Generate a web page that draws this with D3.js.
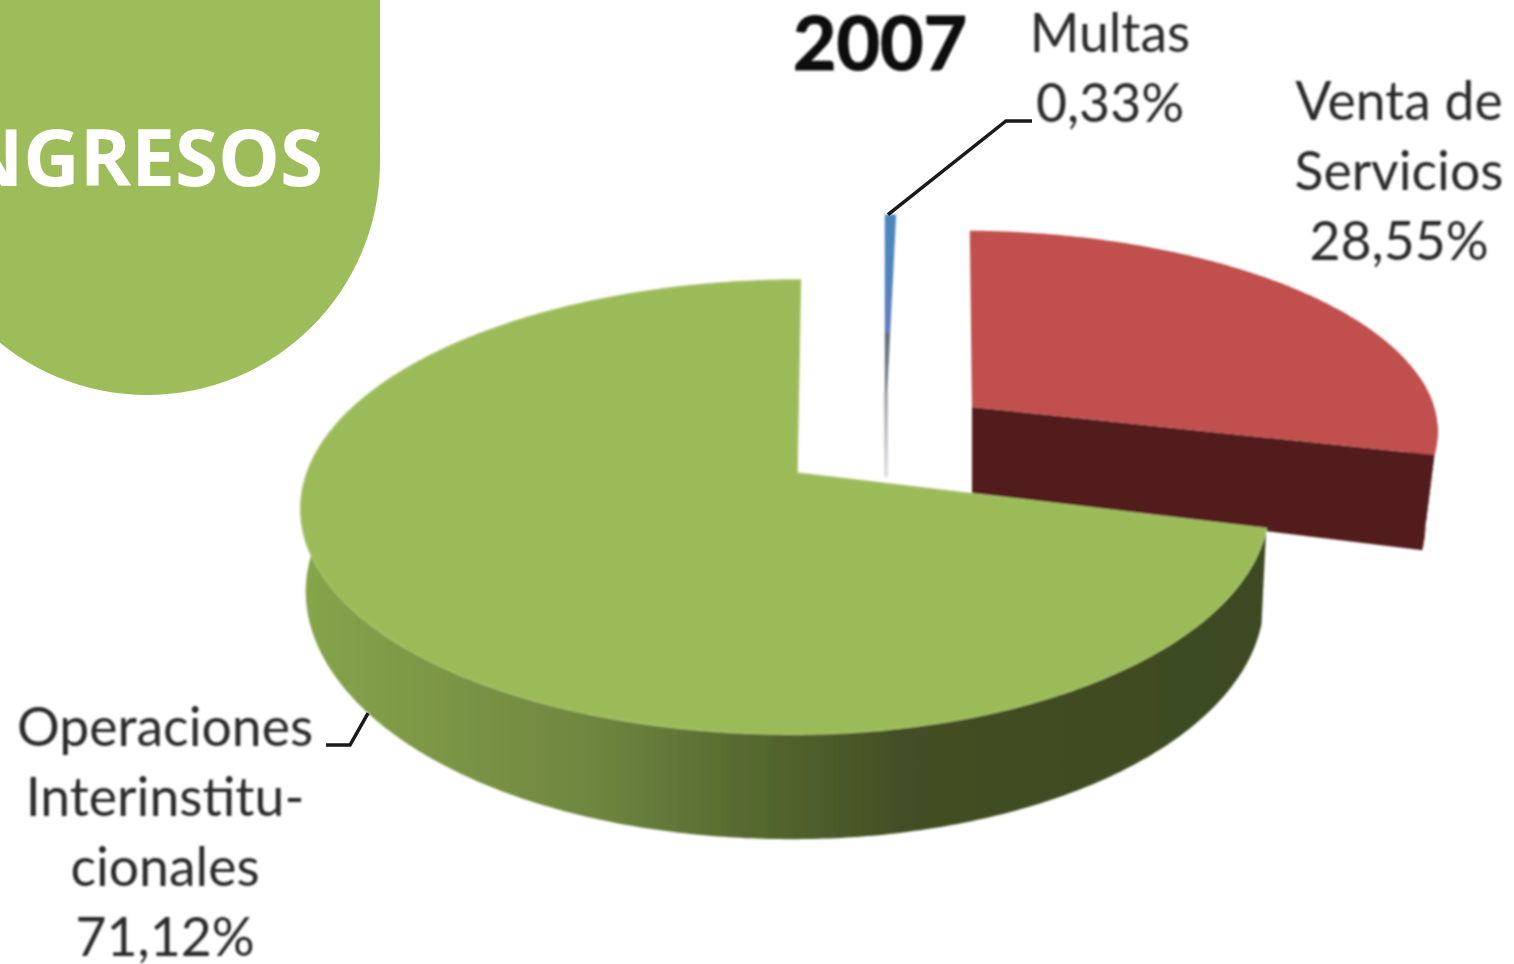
<!DOCTYPE html>
<html lang="es">
<head>
<meta charset="utf-8">
<title>Ingresos 2007</title>
<script src="https://cdn.jsdelivr.net/npm/d3@7"></script>
<style>
    html, body { margin: 0; padding: 0; background: #fff; overflow: hidden; }
    svg { display: block; }
    .label { font-family: Lato, "Open Sans", sans-serif; font-size: 53.5px; fill: #2b2b2b; text-anchor: middle; }
</style>
</head>
<body>
<svg id="chart" width="1514" height="964"></svg>
<script>
const categories = ['Multas', 'Venta de Servicios', 'Operaciones Interinstitucionales'];
const shares = [0.33, 28.55, 71.12];
const labelLines = [
    ['Multas', '0,33%'],
    ['Venta de', 'Servicios', '28,55%'],
    ['Operaciones', 'Interinstitu-', 'cionales', '71,12%']
];
const sectionTitle = 'INGRESOS';
const yearTitle = '2007';

// one perspective setup per slice, because the slices are pulled apart
const sliceLayout = [
    { cx: 886, cy: 392, rxLeft: 470, rxRight: 470, ry: 194, k: 0.1, skew: 0, shrink: 1, depth: 85, depthFront: 0, depthLeft: 0, top: 'url(#multasTop)', wall: 'url(#multasWall)', rim: 'url(#multasTop)', rimWidth: 2.5 },
    { cx: 972, cy: 407, rxLeft: 462, rxRight: 462, ry: 194, k: 0.1, skew: 12, shrink: 0.974, depth: 88, depthFront: 30, depthLeft: 0, top: '#c0504d', wall: '#531e1e', rim: 'none', rimWidth: 0 },
    { cx: 797, cy: 473, rxLeft: 490, rxRight: 467, ry: 222, k: 0.15, skew: -4, shrink: 0.99, depth: 92, depthFront: 13, depthLeft: 12, top: '#9bbb59', wall: 'url(#greenWall)', rim: '#a9c26c', rimWidth: 1.5 }
];
const labelLayout = [
    { x: 1110, y: 52, step: 70 },
    { x: 1399, y: 120, step: 70 },
    { x: 165, y: 746, step: 70 }
];

const svg = d3.select('#chart');
const defs = svg.append('defs');

function addGradient(id, x1, y1, x2, y2, units, stops) {
    const gradient = defs.append('linearGradient')
        .attr('id', id)
        .attr('gradientUnits', units)
        .attr('x1', x1).attr('y1', y1)
        .attr('x2', x2).attr('y2', y2);
    stops.forEach(s => {
        gradient.append('stop').attr('offset', s[0]).attr('stop-color', s[1]);
    });
}

addGradient('greenWall', 305, 0, 1265, 0, 'userSpaceOnUse', [
    [0, '#86a44a'], [0.1, '#7f9a47'], [0.3, '#6f8640'], [0.47, '#55682f'],
    [0.62, '#434f25'], [1, '#3d4a22']
]);
addGradient('multasTop', 0, 0, 0, 1, 'objectBoundingBox', [
    [0, '#4c88bd'], [0.33, '#4f84bc'], [0.66, '#667cc0'], [0.67, '#666f7c'], [1, '#7d8088']
]);
addGradient('multasWall', 0, 0, 0, 1, 'objectBoundingBox', [
    [0, '#a9a9ae'], [1, '#e2e2ea']
]);

const soften = defs.append('filter').attr('id', 'soften');
soften.append('feGaussianBlur').attr('stdDeviation', 0.8);

// header shape, runs off the top and left of the page
const header = svg.append('g').attr('fill', '#9dbd5b');
header.append('rect').attr('x', -90).attr('y', -5).attr('width', 470).attr('height', 170);
header.append('circle').attr('cx', 147).attr('cy', 162).attr('r', 233);
svg.append('text')
    .attr('x', 323).attr('y', 186)
    .attr('text-anchor', 'end')
    .attr('font-family', '"Open Sans", sans-serif')
    .attr('font-weight', 700)
    .attr('font-size', 78)
    .attr('fill', '#fff')
    .text(sectionTitle);

const pieData = d3.pie().sort(null)(shares);

function project(angle, s) {
    const u = Math.sin(angle);
    const v = -Math.cos(angle);
    const w = 1 - s.k * v;
    const rx = u < 0 ? s.rxLeft : s.rxRight;
    return [s.cx + (rx * u + s.skew * v) / w, s.cy + s.ry * v / w];
}

function lower(angle, s) {
    const p = project(angle, s);
    const u = Math.sin(angle);
    const v = -Math.cos(angle);
    const leftCut = s.depthLeft * Math.pow(Math.max(0, -u), 3);
    return [s.cx + (p[0] - s.cx) * s.shrink, p[1] + s.depth + s.depthFront * v - leftCut];
}

function sampleAngles(a0, a1) {
    const n = Math.max(2, Math.ceil((a1 - a0) / 0.01));
    return d3.range(n + 1).map(i => a0 + (a1 - a0) * i / n);
}

const line = d3.line();
const pieGroup = svg.append('g').attr('filter', 'url(#soften)');

pieData.forEach((d, i) => {
    const s = sliceLayout[i];
    const apex = [s.cx, s.cy];
    const apexLow = [s.cx, s.cy + s.depth];
    const angles = sampleAngles(d.startAngle, d.endAngle);
    const g = pieGroup.append('g').attr('class', 'slice').attr('data-name', categories[i]);

    if (i === 0) {
        // the sliver only shows a thin stem under its top face
        g.append('rect')
            .attr('x', s.cx - 2).attr('y', s.cy)
            .attr('width', 4).attr('height', s.depth)
            .attr('fill', s.wall);
    } else {
        // radial wall at the end of the slice, then the outer wall facing us
        const end = d.endAngle;
        if (end < Math.PI) {
            g.append('path')
                .attr('d', line([apex, project(end, s), lower(end, s), apexLow]) + 'Z')
                .attr('fill', s.wall);
        }
        const from = Math.max(d.startAngle, Math.PI / 2 * 0.9);
        const to = Math.min(d.endAngle, Math.PI * 1.55);
        const outer = sampleAngles(from, to);
        const wallPoints = outer.map(a => project(a, s)).concat(outer.slice().reverse().map(a => lower(a, s)));
        g.append('path')
            .attr('d', line(wallPoints) + 'Z')
            .attr('fill', s.wall);
    }

    g.append('path')
        .attr('d', line([apex].concat(angles.map(a => project(a, s)))) + 'Z')
        .attr('fill', s.top)
        .attr('stroke', s.rim)
        .attr('stroke-width', s.rimWidth);
});

// leader lines start on the slices and end beside the labels
const multasTip = project(pieData[0].startAngle, sliceLayout[0]);
const operacionesTip = lower(Math.PI * 1.295, sliceLayout[2]);
const leaders = [
    [[multasTip[0] + 2, multasTip[1] - 1], [1006, 121], [1032, 121]],
    [operacionesTip, [350, 745], [326, 745]]
];
svg.append('g')
    .attr('fill', 'none')
    .attr('stroke', '#1a1a1a')
    .attr('stroke-width', 3.5)
    .selectAll('path')
    .data(leaders)
    .join('path')
    .attr('d', line);

const textGroup = svg.append('g').attr('filter', 'url(#soften)');
textGroup.append('text')
    .attr('x', 880).attr('y', 70)
    .attr('text-anchor', 'middle')
    .attr('font-family', 'Lato, sans-serif')
    .attr('font-weight', 700)
    .attr('font-size', 75)
    .attr('fill', '#111')
    .attr('stroke', '#111')
    .attr('stroke-width', 1.2)
    .text(yearTitle);

labelLines.forEach((lines, i) => {
    const pos = labelLayout[i];
    textGroup.selectAll(null)
        .data(lines)
        .join('text')
        .attr('class', 'label')
        .attr('x', pos.x)
        .attr('y', (d, j) => pos.y + j * pos.step)
        .text(d => d);
});
</script>
</body>
</html>
